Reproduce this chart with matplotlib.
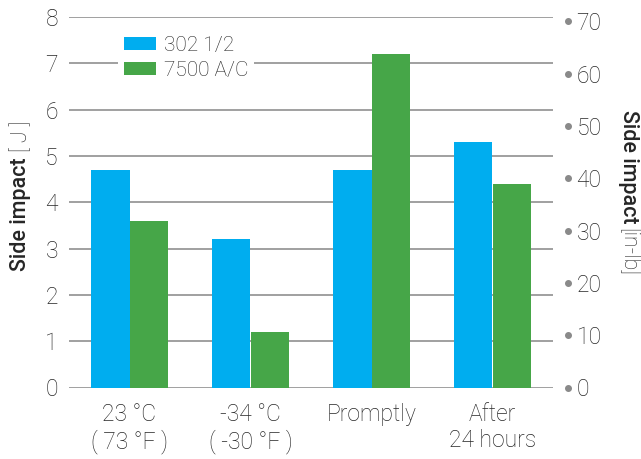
import matplotlib
matplotlib.use("Agg")
import matplotlib.pyplot as plt
import numpy as np

# Data
categories = ["23 °C\n( 73 °F )", "-34 °C\n( -30 °F )", "Promptly", "After\n24 hours"]
series_names = ["302 1/2", "7500 A/C"]
values_302 = [4.7, 3.2, 4.7, 5.3]
values_7500 = [3.6, 1.2, 7.2, 4.4]
left_ticks = [0, 1, 2, 3, 4, 5, 6, 7, 8]
right_ticks = [0, 10, 20, 30, 40, 50, 60, 70]
J_TO_INLB = 8.8507

BLUE = "#00adef"
GREEN = "#46a648"
TEXT = "#262626"
GRID = "#a0a0a0"

plt.rcParams["font.family"] = ["Roboto", "DejaVu Sans"]
plt.rcParams["font.weight"] = "light"

fig = plt.figure(figsize=(6.41, 4.59), dpi=100)
W, H = 641, 459
ax = fig.add_axes([69 / W, 1 - 387.5 / H, (553 - 69) / W, (387.5 - 17) / H])

x = np.arange(len(categories))
bw = 0.32
ax.bar(x - bw / 2, values_302, bw, color=BLUE, label=series_names[0], zorder=3)
ax.bar(x + bw / 2, values_7500, bw, color=GREEN, label=series_names[1], zorder=3)

ax.set_xlim(-0.5, len(categories) - 0.5)
ax.set_ylim(0, 8)
ax.set_yticks(left_ticks)
ax.set_yticklabels([str(t) for t in left_ticks])
for t in left_ticks:
    ax.axhline(t, color=GRID, lw=1.4, zorder=1)
for s in ax.spines.values():
    s.set_visible(False)
ax.tick_params(axis="y", length=0, pad=8, labelsize=16.5, labelcolor=TEXT)
ax.set_xticks(x)
ax.set_xticklabels(categories)
ax.tick_params(axis="x", length=0, pad=11, labelsize=16.5, labelcolor=TEXT)
for lbl in ax.get_xticklabels():
    lbl.set_linespacing(1.17)

# Secondary axis in in-lb
ax2 = ax.twinx()
ax2.set_ylim(0, 8 * J_TO_INLB)
ax2.set_yticks(right_ticks)
ax2.set_yticklabels([str(t) for t in right_ticks])
for s in ax2.spines.values():
    s.set_visible(False)
ax2.tick_params(axis="y", length=0, pad=17, labelsize=16.5, labelcolor=TEXT)
ax2.plot([1.0 + 15 / 484] * len(right_ticks), right_ticks, "o", ms=4,
         color="#8a8a8a", clip_on=False, transform=ax2.get_yaxis_transform(),
         zorder=5)

leg = ax.legend(loc="upper left", bbox_to_anchor=(0.08, 0.995), frameon=True,
                prop={"size": 15, "weight": "light"}, handlelength=1.5,
                handleheight=0.58, handletextpad=0.38, labelspacing=0.32,
                borderpad=0.3, fancybox=False, edgecolor="none",
                facecolor="white", framealpha=1.0)
for t in leg.get_texts():
    t.set_color(TEXT)

# Axis titles: bold name plus regular unit
fig.canvas.draw()
renderer = fig.canvas.get_renderer()

def split_label(xpix, ycenter, bold, unit, rot):
    fs = 15.5
    tb = fig.text(0, 0, bold, fontsize=fs, fontweight="medium", rotation=rot,
                  color=TEXT, ha="center", va="center")
    tu = fig.text(0, 0, unit, fontsize=fs, fontweight="light", rotation=rot,
                  color=TEXT, ha="center", va="center")
    hb = tb.get_window_extent(renderer).height
    hu = tu.get_window_extent(renderer).height
    gap = 5
    total = hb + gap + hu
    top = H - ycenter + total / 2  # in display coords (origin bottom)
    if rot == 90:
        # reads bottom to top: bold part lower
        yb = top - total + hb / 2
        yu = top - hu / 2
    else:
        # reads top to bottom: bold part higher
        yb = top - hb / 2
        yu = top - total + hu / 2
    tb.set_position((xpix / W, yb / H))
    tu.set_position((xpix / W, yu / H))

split_label(21, 196, "Side impact", "[ J ]", 90)
split_label(628, 193, "Side impact", "[in-lb]", -90)

fig.savefig("out.png", dpi=100)
